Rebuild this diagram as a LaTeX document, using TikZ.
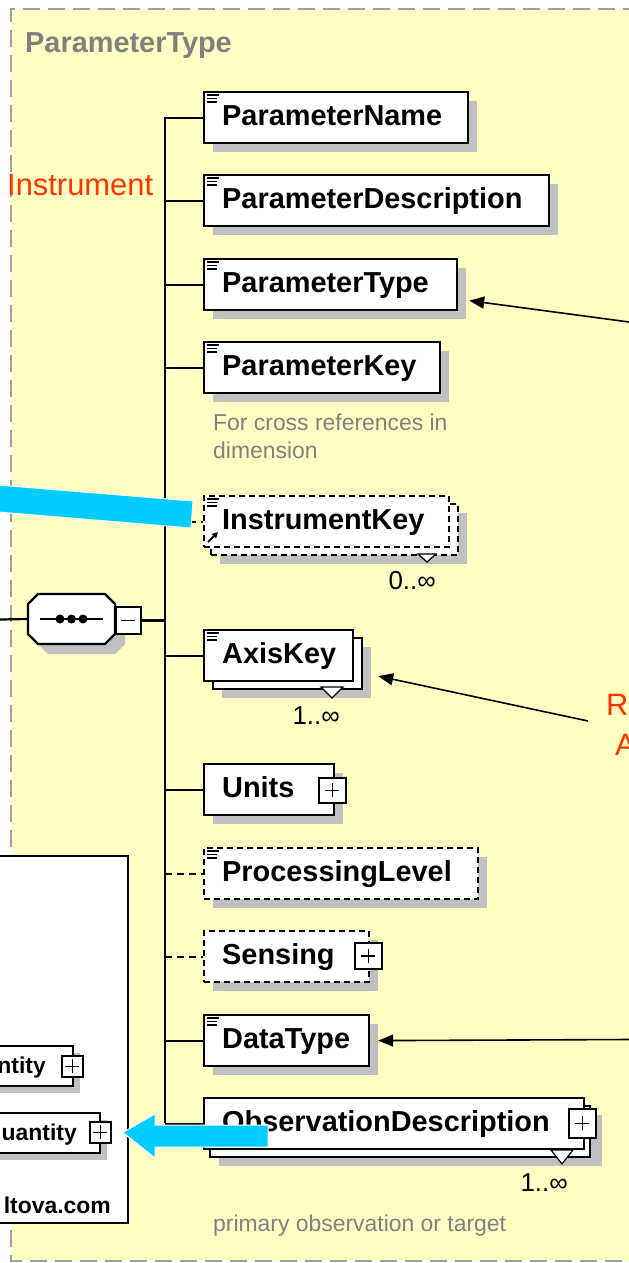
\documentclass[tikz,border=0pt]{standalone}
\usepackage{fontspec}
\setmainfont{Liberation Sans}
\usetikzlibrary{arrows.meta,calc}
\definecolor{bgyellow}{RGB}{255,255,196}
\definecolor{framegray}{RGB}{160,160,160}
\definecolor{shadowgray}{RGB}{192,192,192}
\definecolor{titlegray}{RGB}{128,128,128}
\definecolor{notegray}{RGB}{128,128,128}
\definecolor{redtext}{RGB}{255,51,0}
\definecolor{cyanarrow}{RGB}{0,204,255}
\newcommand\boxfont{\fontsize{29}{34}\selectfont\bfseries}
\newcommand\notefont{\fontsize{23}{28}\selectfont}
\newcommand\multfont{\fontsize{26}{30}\selectfont}
\newcommand\redfont{\fontsize{31}{36}\selectfont}
\newcommand\smallboxfont{\fontsize{23}{28}\selectfont\bfseries}
\tikzset{
  elbox/.style={draw=black, line width=2.2bp, fill=white, minimum height=51bp, inner sep=0pt, anchor=north west},
  optbox/.style={elbox, dash pattern=on 6bp off 4bp},
  eltext/.style={font=\boxfont, anchor=base west, inner sep=0pt},
  shd/.style={fill=shadowgray},
  bus/.style={line width=2.2bp},
  optline/.style={line width=2.2bp, dash pattern=on 7bp off 5bp},
  plusbox/.style={draw=black, line width=1.8bp, fill=white, inner sep=0pt, anchor=north west},
  pointer/.style={line width=1.6bp, -{Triangle[length=15bp,width=12bp]}},
  note/.style={font=\notefont, text=notegray, anchor=base west, inner sep=0pt},
  mult/.style={font=\multfont, anchor=base east, inner sep=0pt},
  redlabel/.style={font=\redfont, text=redtext, anchor=base west, inner sep=0pt},
  multtri/.style={draw=black, line width=1.2bp, fill=white},
}
\newcommand\docicon[1]{\draw[line width=1.3bp] ([shift={(4,4)}]#1.north west) -- ++(12,0) ([shift={(4,7.5)}]#1.north west) -- ++(10,0) ([shift={(4,11)}]#1.north west) -- ++(10,0);}
\newcommand\plussign[1]{\draw[line width=1.8bp] (#1.center) +(-7,0) -- +(7,0) (#1.center) +(0,-7) -- +(0,7);}
\begin{document}
\begin{tikzpicture}[x=1bp,y=-1bp]
\useasboundingbox (0,0) rectangle (629,1263);
\fill[white] (0,0) rectangle (629,1263);
\fill[bgyellow] (11,9) rectangle (640,1261);
\draw[framegray, line width=2.5bp, dash pattern=on 17bp off 8bp] (640,9) -- (11,9) -- (11,1261) -- (640,1261);

% title and label
\node[font=\boxfont, text=titlegray, anchor=base west, inner sep=0pt] (title) at (25,52) {ParameterType};
\node[redlabel] (instr) at (7,195) {Instrument};

% bus
\coordinate (bustop) at (165,116.5);
\coordinate (busbot) at (165,1122.5);
\draw[bus] (bustop) -- (busbot);

% compositor
\fill[shd] (48,604) -- (115,604) -- (125,614) -- (125,644) -- (115,654) -- (48,654) -- (38,644) -- (38,614) -- cycle;
\filldraw[fill=white, draw=black, line width=2.2bp] (38,594) -- (105,594) -- (115,604) -- (115,634) -- (105,644) -- (38,644) -- (28,634) -- (28,604) -- cycle;
\node[inner sep=0pt, minimum width=87bp, minimum height=50bp] (seq) at (71.5,619) {};
\draw[line width=1.8bp] (40,619) -- (103,619);
\fill (60,619) circle[radius=4.5bp] (71.5,619) circle[radius=4.5bp] (83,619) circle[radius=4.5bp];
\node[plusbox, minimum width=25bp, minimum height=27bp] (seqm) at (115,606) {};
\draw[line width=1.8bp] ([xshift=-7bp]seqm.center) -- ([xshift=7bp]seqm.center);
\coordinate (leftin) at (0,619.5);
\draw[bus] (leftin) -- (seq.west);
\draw[bus] (seqm.east) -- (bustop |- seqm.east);

% ParameterName
\fill[shd] (213,101) rectangle ++(264,51);
\node[elbox, minimum width=264bp] (pname) at (203,91) {};
\node[eltext] (pname-t) at ([shift={(19,34)}]pname.north west) {ParameterName};
\docicon{pname}
\draw[bus] (bustop |- pname.west) -- (pname.west);

% ParameterDescription
\fill[shd] (213,184) rectangle ++(345,51);
\node[elbox, minimum width=345bp] (pdesc) at (203,174) {};
\node[eltext] (pdesc-t) at ([shift={(19,34)}]pdesc.north west) {ParameterDescription};
\docicon{pdesc}
\draw[bus] (bustop |- pdesc.west) -- (pdesc.west);

% ParameterType
\fill[shd] (213,268) rectangle ++(253,51);
\node[elbox, minimum width=253bp] (ptype) at (203,258) {};
\node[eltext] (ptype-t) at ([shift={(19,34)}]ptype.north west) {ParameterType};
\docicon{ptype}
\draw[bus] (bustop |- ptype.west) -- (ptype.west);

% ParameterKey
\fill[shd] (213,351) rectangle ++(236,51);
\node[elbox, minimum width=236bp] (pkey) at (203,341) {};
\node[eltext] (pkey-t) at ([shift={(19,34)}]pkey.north west) {ParameterKey};
\docicon{pkey}
\draw[bus] (bustop |- pkey.west) -- (pkey.west);
\node[note] (pkey-n1) at (213,430) {For cross references in};
\node[note] (pkey-n2) at (213,458) {dimension};

% InstrumentKey
\fill[shd] (220,513) rectangle ++(247,51);
\node[optbox, minimum width=247bp] (ikey-b) at (210,503) {};
\node[optbox, minimum width=245bp] (ikey) at (203,495) {};
\node[eltext] (ikey-t) at ([shift={(19,34)}]ikey.north west) {InstrumentKey};
\docicon{ikey}
\draw[line width=1.8bp, -{Triangle[length=6bp,width=6bp]}] ([shift={(5,47)}]ikey.north west) -- ++(10,-10);
\filldraw[multtri] (418,554) -- (436,554) -- (427,562) -- cycle;
\node[mult] (ikey-m) at (436,589) {0..∞};
\draw[optline] (bustop |- ikey.west) -- (ikey.west);

% AxisKey
\fill[shd] (222,647) rectangle ++(149,51);
\node[elbox, minimum width=149bp] (axis-b) at (212,637) {};
\node[elbox, minimum width=149bp] (axis) at (203,629) {};
\node[eltext] (axis-t) at ([shift={(19,34)}]axis.north west) {AxisKey};
\docicon{axis}
\filldraw[multtri] (321,687) -- (343,687) -- (332,698) -- cycle;
\node[mult] (axis-m) at (340,724) {1..∞};
\draw[bus] (bustop |- axis.west) -- (axis.west);

% Units
\fill[shd] (213,773) rectangle ++(130,51);
\node[elbox, minimum width=130bp] (units) at (203,763) {};
\node[eltext] (units-t) at ([shift={(19,34)}]units.north west) {Units};
\node[plusbox, minimum width=27bp, minimum height=25bp] (units-p) at (318,777) {};
\plussign{units-p}
\draw[bus] (bustop |- units.west) -- (units.west);

% ProcessingLevel
\fill[shd] (213,857) rectangle ++(274,51);
\node[optbox, minimum width=274bp] (plevel) at (203,847) {};
\node[eltext] (plevel-t) at ([shift={(19,34)}]plevel.north west) {ProcessingLevel};
\docicon{plevel}
\draw[optline] (bustop |- plevel.west) -- (plevel.west);

% Sensing
\fill[shd] (213,940) rectangle ++(165,51);
\node[optbox, minimum width=165bp] (sens) at (203,930) {};
\node[eltext] (sens-t) at ([shift={(19,34)}]sens.north west) {Sensing};
\node[plusbox, minimum width=27bp, minimum height=26bp] (sens-p) at (354,942) {};
\plussign{sens-p}
\draw[optline] (bustop |- sens.west) -- (sens.west);

% DataType
\fill[shd] (213,1024) rectangle ++(165,51);
\node[elbox, minimum width=165bp] (dtype) at (203,1014) {};
\node[eltext] (dtype-t) at ([shift={(19,34)}]dtype.north west) {DataType};
\docicon{dtype}
\draw[bus] (bustop |- dtype.west) -- (dtype.west);

% ObservationDescription
\fill[shd] (219,1115) rectangle ++(383,51);
\node[elbox, minimum width=380bp] (obs-b) at (209,1105) {};
\node[elbox, minimum width=380bp] (obs) at (203,1097) {};
\node[eltext] (obs-t) at ([shift={(19,34)}]obs.north west) {ObservationDescription};
\node[plusbox, minimum width=27bp, minimum height=29bp] (obs-p) at (568,1108) {};
\plussign{obs-p}
\filldraw[multtri] (551,1150) -- (573,1150) -- (562,1164) -- cycle;
\node[mult] (obs-m) at (568,1191) {1..∞};
\draw[bus] (bustop |- obs.west) -- (obs.west);
\node[note] (obs-n) at (213,1231) {primary observation or target};

% left white panel
\node[draw=black, line width=2.2bp, fill=white, anchor=north east, minimum width=145bp, minimum height=367bp, inner sep=0pt] (panel) at (129,855) {};
\begin{scope}
\clip (0,856) rectangle (128,1221);
\fill[shd] (-2,1053) rectangle (80,1093);
\node[elbox, minimum height=40bp, minimum width=82bp] (qa) at (-10,1045) {};
\node[font=\smallboxfont, anchor=base east, inner sep=0pt] (qa-t) at (46,1073) {ntity};
\node[plusbox, minimum width=21bp, minimum height=21bp] (qa-p) at (61,1055) {};
\plussign{qa-p}
\fill[shd] (-2,1120) rectangle (107,1160);
\node[elbox, minimum height=40bp, minimum width=109bp] (qb) at (-10,1112) {};
\node[font=\smallboxfont, anchor=base east, inner sep=0pt] (qb-t) at (77,1140) {uantity};
\node[plusbox, minimum width=21bp, minimum height=21bp] (qb-p) at (89,1121) {};
\plussign{qb-p}
\node[font=\smallboxfont, anchor=base east, inner sep=0pt] (altova) at (111,1213) {ltova.com};
\end{scope}

% cyan arrows
\fill[cyanarrow, draw=white, line width=1bp] (-2,485) -- (193,501) -- (191,528) -- (-2,512) -- cycle;
\coordinate (ctip) at ([xshift=11bp]qb-p.east);
\fill[cyanarrow, draw=white, line width=1bp] (268,1125) -- (155,1125) -- (155,1114) -- (ctip) -- (155,1158) -- (155,1147) -- (268,1147) -- cycle;

% black pointers
\coordinate (p1s) at (629,322);
\draw[pointer] (p1s) -- ([shift={(11,16)}]ptype.east);
\coordinate (p2s) at (588,721);
\draw[pointer] (p2s) -- ([shift={(15,12.5)}]axis-b.east);
\coordinate (p3s) at (629,1039.5);
\draw[pointer] (p3s) -- ([xshift=8bp]dtype.east);
\node[redlabel] (rlab) at (606,715) {R};
\node[redlabel] (alab) at (615,755) {A};
\end{tikzpicture}
\end{document}
